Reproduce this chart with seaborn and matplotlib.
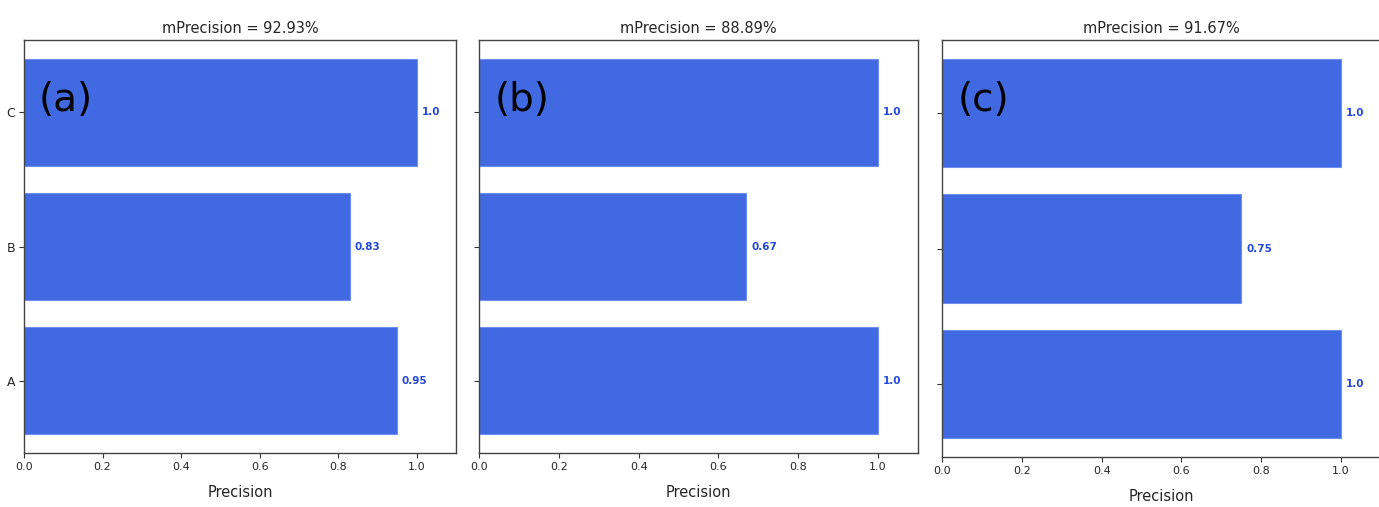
import matplotlib
matplotlib.use("Agg")
import matplotlib.pyplot as plt
from matplotlib import font_manager
import seaborn as sns
import pandas as pd

sns.set_style("ticks")
plt.rcParams["font.family"] = ["DejaVu Sans"]

# Per-class precision for the three evaluated models
classes = ["A", "B", "C"]
precision_a = [0.95, 0.83, 1.0]
precision_b = [1.0, 0.67, 1.0]
precision_c = [1.0, 0.75, 1.0]
titles = ["mPrecision = 92.93%", "mPrecision = 88.89%", "mPrecision = 91.67%"]
panel_tags = ["(a)", "(b)", "(c)"]
x_ticks = [0.0, 0.2, 0.4, 0.6, 0.8, 1.0]

bar_color = "#4169E1"
label_color = "#2448d8"

# a narrow face for the panel tags, if one is available
installed = {f.name for f in font_manager.fontManager.ttflist}
tag_family = "Liberation Sans Narrow" if "Liberation Sans Narrow" in installed else "DejaVu Sans"

W, H = 1379, 507
fig = plt.figure(figsize=(W / 100, H / 100), dpi=100)

# axes boxes in pixels: left, right, top, bottom
boxes = [(24, 456, 40, 453), (479, 918, 40, 453), (942, 1381, 40, 457)]

series = [precision_a, precision_b, precision_c]
order = classes[::-1]  # C on top

for i, (vals, title, tag, box) in enumerate(zip(series, titles, panel_tags, boxes)):
    l, r, t, b = box
    ax = fig.add_axes([l / W, (H - b) / H, (r - l) / W, (b - t) / H])
    df = pd.DataFrame({"cls": classes, "precision": vals})
    sns.barplot(data=df, x="precision", y="cls", order=order, orient="h",
                color=bar_color, saturation=1, width=0.8,
                edgecolor="#6f8ff0", linewidth=0.8, ax=ax)
    ax.set_xlim(0, 1.1)
    ax.set_ylim(2.54, -0.54)
    ax.set_xticks(x_ticks)
    ax.set_xticklabels([f"{v:.1f}" for v in x_ticks], fontsize=8)
    ax.set_xlabel("Precision", fontsize=10.5, labelpad=9)
    ax.set_ylabel("")
    if i == 0:
        ax.tick_params(axis="y", labelsize=9)
    else:
        ax.set_yticklabels([])
    ax.tick_params(axis="both", length=3.5, width=0.8, color="#333333", pad=3)
    for sp in ax.spines.values():
        sp.set_color("#444444")
        sp.set_linewidth(1.0)
    ax.set_title(title, fontsize=10.5, pad=5)
    for cls, v in zip(classes, vals):
        ax.text(v + 0.012, order.index(cls), str(v), color=label_color,
                fontsize=7.5, fontweight="bold", va="center", ha="left")
    ax.text(0.035, 0.855, tag, transform=ax.transAxes, fontsize=28,
            family=tag_family, color="black", va="center", ha="left")

fig.savefig("out.png", dpi=100)
